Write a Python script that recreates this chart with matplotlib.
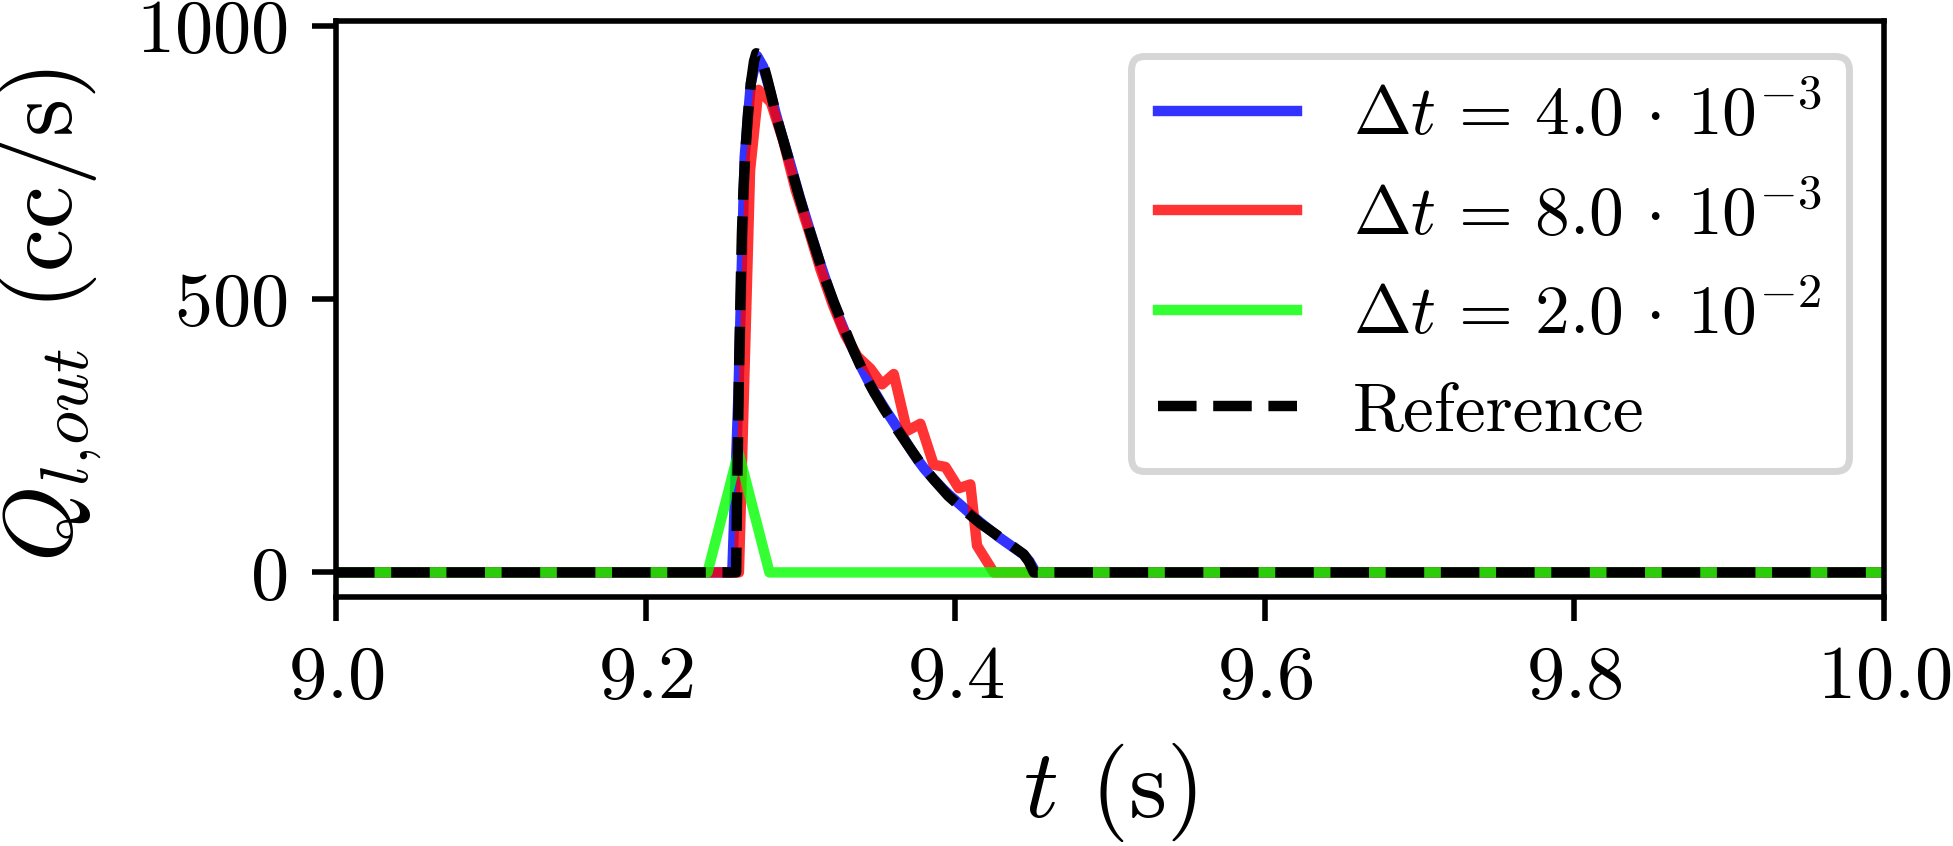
import matplotlib
matplotlib.use('Agg')
import matplotlib.pyplot as plt

plt.rcParams['font.family'] = 'serif'
plt.rcParams['font.serif'] = ['cmr10']
plt.rcParams['mathtext.fontset'] = 'cm'
plt.rcParams['axes.formatter.use_mathtext'] = True

# dt = 4e-3
t_blue = [9.0, 9.256, 9.260, 9.264, 9.268, 9.272, 9.276, 9.280, 9.284, 9.288, 9.292, 9.296,
          9.300, 9.304, 9.308, 9.312, 9.316, 9.320, 9.324, 9.328, 9.332, 9.336, 9.340,
          9.344, 9.348, 9.352, 9.356, 9.360, 9.364, 9.368, 9.372, 9.376, 9.380, 9.384,
          9.388, 9.392, 9.396, 9.400, 9.404, 9.408, 9.412, 9.416, 9.420, 9.424, 9.428,
          9.432, 9.436, 9.440, 9.444, 9.448, 9.452, 10.0]
q_blue = [0, 0, 330, 760, 895, 945, 925, 885, 840, 800, 762, 722,
          682, 645, 608, 572, 538, 505, 473, 445, 420, 396, 372,
          350, 330, 311, 293, 276, 258, 240, 222, 205, 190, 177,
          165, 153, 142, 132, 122, 112, 102, 92, 83, 74, 65,
          57, 49, 41, 33, 20, 0, 0]

# dt = 8e-3
t_red = [9.0, 9.2603, 9.2675, 9.2729, 9.2809, 9.2889, 9.2969, 9.3049, 9.3129, 9.3209,
         9.3289, 9.3369, 9.3452, 9.3527, 9.3603, 9.3689, 9.3775, 9.3861, 9.3937,
         9.4023, 9.4098, 9.4141, 9.4249, 10.0]
q_red = [0, 0, 736, 883, 860, 790, 700, 630, 555, 490,
         435, 395, 373, 344, 363, 259, 272, 197, 193,
         154, 161, 49, 0, 0]

# dt = 2e-2
t_green = [9.0, 9.24, 9.26, 9.28, 10.0]
q_green = [0, 0, 220, 0, 0]

# reference solution
t_ref = [9.0, 9.2585, 9.2590, 9.2596, 9.2601, 9.2607, 9.2614, 9.2622, 9.2632, 9.2645,
         9.2660, 9.2680, 9.2700, 9.2715, 9.2735, 9.2760, 9.2784, 9.2815, 9.2849, 9.2890,
         9.2935, 9.2990, 9.3043, 9.3100, 9.3150, 9.3215, 9.3280, 9.3345, 9.3409, 9.3475,
         9.3538, 9.3610, 9.3689, 9.3775, 9.3861, 9.3955, 9.4055, 9.4160, 9.4271, 9.4360,
         9.4443, 9.4475, 9.4495, 9.4508, 10.0]
q_ref = [0, 0, 120, 226, 330, 422, 520, 619, 700, 770,
         835, 895, 935, 950, 948, 930, 905, 870, 830, 790,
         745, 690, 640, 590, 545, 495, 450, 405, 365, 330,
         300, 268, 235, 200, 170, 140, 115, 90, 68, 50,
         33, 20, 8, 0, 0]

fig, ax = plt.subplots(figsize=(1953 / 500, 846 / 500), dpi=500)
fig.subplots_adjust(left=336 / 1953, right=1884 / 1953, bottom=1 - 597 / 846, top=1 - 21 / 846)

ax.plot(t_blue, q_blue, color='b', alpha=0.8, lw=1.5, label=r'$\Delta t\,=\,4.0\,\cdot\,10^{-3}$')
ax.plot(t_red, q_red, color='r', alpha=0.8, lw=1.5, label=r'$\Delta t\,=\,8.0\,\cdot\,10^{-3}$')
ax.plot(t_green, q_green, color=(0, 1, 0), alpha=0.8, lw=1.5, label=r'$\Delta t\,=\,2.0\,\cdot\,10^{-2}$')
ax.plot(t_ref, q_ref, 'k--', lw=1.5, label='Reference')

ax.set_xlim(9.0, 10.0)
ax.set_ylim(-45, 1009)
ax.set_xticks([9.0, 9.2, 9.4, 9.6, 9.8, 10.0])
ax.set_yticks([0, 500, 1000])
ax.tick_params(labelsize=11)

ax.set_xlabel(r'$t$ (s)', fontsize=14)
ax.set_ylabel(r'$Q_{l,\!out}$ (cc/s)', fontsize=14)
ax.yaxis.set_label_coords(-0.15, 0.49)

ax.legend(loc='upper right', fontsize=10)

fig.savefig('out.png', dpi=500)
